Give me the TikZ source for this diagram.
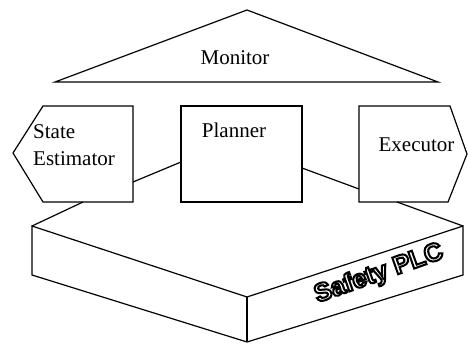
\documentclass[tikz,border=0pt]{standalone}
\usepackage{fontspec}
\setmainfont{Liberation Serif}
\newfontfamily\plcfont{Liberation Sans}[UprightFont={* Bold}, FakeBold=8]
\tikzset{
  lbl/.style={inner sep=0pt, font=\fontsize{21}{27}\selectfont, anchor=base},
  plcglyph/.style={inner sep=0pt, rotate=19.5, font=\plcfont\fontsize{25.5}{30}\selectfont},
  shapeline/.style={draw=black, line width=1.2pt, line join=miter},
  conn/.style={draw=black, line width=1.2pt}
}
\begin{document}
\begin{tikzpicture}[x=1pt,y=-1pt]
\useasboundingbox (0,0) rectangle (468,343);
% Monitor
\draw[shapeline] (55,82) -- (247,10) -- (438,82) -- cycle;
\node[lbl] (mon) at (235,64) {Monitor};
% State Estimator
\draw[shapeline] (43,106) -- (133,106) -- (133,202) -- (43,202) -- (13,153) -- cycle;
\node[lbl, anchor=base west] (se1) at (33,138) {State};
\node[lbl, anchor=base west] (se2) at (33,165) {Estimator};
% Planner
\draw[shapeline] (181,106) rectangle (302,202);
\node[lbl] (plan) at (234,137) {Planner};
% Executor
\draw[shapeline] (359,106) -- (450,106) -- (467,154) -- (448,202) -- (359,202) -- cycle;
\node[lbl] (exe) at (416.5,151) {Executor};
% connector endpoints
\coordinate (seR) at (133,182);
\coordinate (plL) at (181,162);
\coordinate (plR) at (302,168);
\coordinate (exL) at (359,189);
\coordinate (seB) at (83,202);
\coordinate (exB) at (397,202);
\coordinate (plcL) at (32,226);
\coordinate (plcR) at (463,226);
\coordinate (plcF) at (247,297);
\draw[conn] (seR) -- (plL);
\draw[conn] (plR) -- (exL);
\draw[conn] (seB) -- (plcL);
\draw[conn] (exB) -- (plcR);
% Safety PLC box
\draw[shapeline] (plcL) -- (plcF) -- (plcR) -- (463,275) -- (247,342) -- (32,275) -- cycle;
\draw[shapeline] (plcF) -- (247,342);
% outlined label
\node[plcglyph] (plc) at (379,274) {\special{pdf:literal direct 1 g 0 G}Safety PLC\special{pdf:literal direct 0 g 0 G}};
\end{tikzpicture}
\end{document}
